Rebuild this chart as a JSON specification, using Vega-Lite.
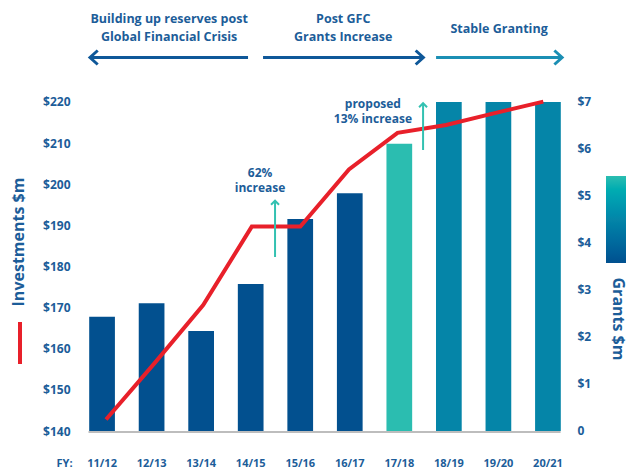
{
  "$schema": "https://vega.github.io/schema/vega-lite/v6.json",
  "width": 494,
  "height": 432,
  "autosize": {"type": "none"},
  "padding": {"left": 78, "top": 0, "right": 60, "bottom": 38},
  "background": "white",
  "config": {
    "view": {"stroke": null},
    "font": "Open Sans",
    "axis": {
      "labelFont": "Open Sans", "labelFontWeight": "bold", "labelColor": "#1c5d99",
      "titleFont": "Open Sans", "titleFontWeight": "bold", "titleColor": "#1c5d99",
      "grid": false, "domain": false, "ticks": false, "tickSize": 0
    },
    "legend": {"padding": 0}
  },
  "datasets": {
    "fy": [
      {"fy": "11/12", "grants": 2.43, "investments": 142.8, "phase": 0},
      {"fy": "12/13", "grants": 2.72, "investments": 156.5, "phase": 0},
      {"fy": "13/14", "grants": 2.13, "investments": 170.6, "phase": 0},
      {"fy": "14/15", "grants": 3.13, "investments": 189.7, "phase": 0},
      {"fy": "15/16", "grants": 4.51, "investments": 189.7, "phase": 0},
      {"fy": "16/17", "grants": 5.06, "investments": 203.6, "phase": 0},
      {"fy": "17/18", "grants": 6.11, "investments": 212.5, "phase": 1},
      {"fy": "18/19", "grants": 7.0, "investments": 214.4, "phase": 0.5},
      {"fy": "19/20", "grants": 7.0, "investments": 217.3, "phase": 0.5},
      {"fy": "20/21", "grants": 7.0, "investments": 220.1, "phase": 0.5}
    ],
    "headers": [
      {"text": "Building up reserves post\nGlobal Financial Crisis", "x": 1.355, "y": 240.18},
      {"text": "Post GFC\nGrants Increase", "x": 4.869, "y": 240.18},
      {"text": "Stable Granting", "x": 8.015, "y": 237.75}
    ],
    "notes": [
      {"text": "62%\nincrease", "x": 3.19, "y": 202.74},
      {"text": "proposed\n13% increase", "x": 5.468, "y": 219.51}
    ],
    "rules": [
      {"kind": "base", "x": -0.2726, "x2": 9.257, "y": 139.757, "y2": 139.757},
      {"kind": "header", "x": -0.2221, "x2": 2.9477, "y": 230.82, "y2": 230.82},
      {"kind": "header", "x": 3.2506, "x2": 6.487, "y": 230.82, "y2": 230.82},
      {"kind": "stable", "x": 6.7434, "x2": 9.2873, "y": 230.82, "y2": 230.82},
      {"kind": "growth", "x": 3.4928, "x2": 3.4928, "y": 182.31, "y2": 196.0},
      {"kind": "growth", "x": 6.4809, "x2": 6.4809, "y": 208.33, "y2": 219.7}
    ],
    "heads": [
      {"kind": "header", "dir": "left", "x": -0.2423, "y": 230.82},
      {"kind": "header", "dir": "right", "x": 6.487, "y": 230.82},
      {"kind": "stable", "dir": "right", "x": 9.2873, "y": 230.82},
      {"kind": "growth", "dir": "up", "x": 3.4928, "y": 196.0},
      {"kind": "growth", "dir": "up", "x": 6.4809, "y": 219.7}
    ]
  },
  "layer": [
    {
      "data": {"name": "fy"},
      "mark": {"type": "bar"},
      "encoding": {
        "x": {
          "field": "fy", "type": "ordinal", "sort": null,
          "scale": {"type": "band", "paddingInner": 0.481, "paddingOuter": 0.2261},
          "axis": {
            "orient": "bottom", "labelAngle": 0, "labelFontSize": 11, "labelPadding": 25, "labelBaseline": "top",
            "title": "FY:", "titleX": -14, "titleY": 31, "titleAlign": "center", "titleBaseline": "middle", "titleFontSize": 11
          }
        },
        "y": {
          "field": "grants", "type": "quantitative",
          "scale": {"domain": [-0.0213, 9.1702], "nice": false},
          "axis": {
            "orient": "right", "values": [0, 1, 2, 3, 4, 5, 6, 7],
            "labelExpr": "datum.value == 0 ? '0' : '$' + datum.value",
            "labelAlign": "left", "labelPadding": 5, "labelFontSize": 12,
            "title": "Grants $m", "titleX": 45.7, "titleY": 318.5, "titleAngle": 90,
            "titleAlign": "center", "titleBaseline": "middle", "titleFontSize": 16
          }
        },
        "fill": {
          "field": "phase", "type": "quantitative",
          "scale": {"domain": [0, 0.5, 1], "range": ["#02508f", "#0585a8", "#2bbdb0"]},
          "legend": {
            "orient": "none", "legendX": 528, "legendY": 176, "direction": "vertical",
            "gradientLength": 87, "gradientThickness": 20, "gradientStrokeWidth": 0,
            "title": null, "labelExpr": "''"
          }
        }
      }
    },
    {
      "data": {"name": "fy"},
      "mark": {"type": "line", "strokeWidth": 4},
      "encoding": {
        "x": {
          "field": "fy", "type": "ordinal", "sort": null,
          "scale": {"type": "point", "range": [28, 465.3], "padding": 0},
          "axis": null
        },
        "y": {
          "field": "investments", "type": "quantitative",
          "scale": {"domain": [139.757, 244.8], "nice": false, "zero": false},
          "axis": {
            "orient": "left", "values": [140, 150, 160, 170, 180, 190, 200, 210, 220],
            "labelExpr": "'$' + datum.value", "labelPadding": 8, "labelFontSize": 12,
            "title": "Investments $m", "titleX": -59.7, "titleY": 241.5, "titleAngle": -90,
            "titleAlign": "center", "titleBaseline": "middle", "titleFontSize": 16
          }
        },
        "stroke": {
          "datum": "Investments", "type": "nominal",
          "scale": {"range": ["#e8202a"]},
          "legend": {
            "orient": "none", "legendX": -81, "legendY": 320, "title": null, "labelExpr": "''",
            "symbolType": "M0,-1L0,1", "symbolSize": 1764, "symbolStrokeWidth": 4
          }
        }
      }
    },
    {
      "encoding": {
        "x": {"field": "x", "type": "quantitative", "scale": {"domain": [-0.4846, 9.4872], "nice": false, "zero": false}, "axis": null},
        "y": {"field": "y", "type": "quantitative", "scale": {"domain": [139.757, 244.8], "nice": false, "zero": false}, "axis": null}
      },
      "layer": [
        {
          "data": {"name": "rules"},
          "transform": [{"filter": "datum.kind == 'header' || datum.kind == 'stable'"}],
          "mark": {"type": "rule", "strokeWidth": 3},
          "encoding": {
            "x2": {"field": "x2"}, "y2": {"field": "y2"},
            "stroke": {"field": "kind", "type": "nominal", "scale": {"domain": ["header", "stable", "growth", "base"], "range": ["#0f5899", "#1b8fb4", "#33c1b1", "#bdbdbd"]}, "legend": null}
          }
        },
        {
          "data": {"name": "rules"},
          "transform": [{"filter": "datum.kind == 'growth' || datum.kind == 'base'"}],
          "mark": {"type": "rule", "strokeWidth": 2},
          "encoding": {
            "x2": {"field": "x2"}, "y2": {"field": "y2"},
            "stroke": {"field": "kind", "type": "nominal", "scale": {"domain": ["header", "stable", "growth", "base"], "range": ["#0f5899", "#1b8fb4", "#33c1b1", "#bdbdbd"]}, "legend": null}
          }
        },
        {
          "data": {"name": "heads"},
          "transform": [{"filter": "datum.kind != 'growth'"}],
          "mark": {"type": "point", "filled": false, "size": 196, "strokeWidth": 3, "opacity": 1},
          "encoding": {
            "shape": {"field": "dir", "type": "nominal", "scale": {"domain": ["left", "right", "up"], "range": ["M1.1,-1L0,0L1.1,1", "M-1.1,-1L0,0L-1.1,1", "M-0.57,0.57L0,0L0.57,0.57"]}, "legend": null},
            "stroke": {"field": "kind", "type": "nominal", "scale": {"domain": ["header", "stable", "growth", "base"], "range": ["#0f5899", "#1b8fb4", "#33c1b1", "#bdbdbd"]}, "legend": null}
          }
        },
        {
          "data": {"name": "heads"},
          "transform": [{"filter": "datum.kind == 'growth'"}],
          "mark": {"type": "point", "filled": false, "size": 196, "strokeWidth": 2, "opacity": 1},
          "encoding": {
            "shape": {"field": "dir", "type": "nominal", "scale": {"domain": ["left", "right", "up"], "range": ["M1.1,-1L0,0L1.1,1", "M-1.1,-1L0,0L-1.1,1", "M-0.57,0.57L0,0L0.57,0.57"]}, "legend": null},
            "stroke": {"field": "kind", "type": "nominal", "scale": {"domain": ["header", "stable", "growth", "base"], "range": ["#0f5899", "#1b8fb4", "#33c1b1", "#bdbdbd"]}, "legend": null}
          }
        },
        {
          "data": {"name": "headers"},
          "mark": {"type": "text", "font": "Open Sans", "fontWeight": "bold", "fontSize": 12.5, "color": "#1c5d99", "align": "center", "baseline": "middle", "lineBreak": "\n", "lineHeight": 18},
          "encoding": {"text": {"field": "text"}}
        },
        {
          "data": {"name": "notes"},
          "mark": {"type": "text", "font": "Open Sans", "fontWeight": "bold", "fontSize": 12, "color": "#1c5d99", "align": "center", "baseline": "middle", "lineBreak": "\n", "lineHeight": 14.6},
          "encoding": {"text": {"field": "text"}}
        }
      ]
    }
  ],
  "resolve": {
    "scale": {"x": "independent", "y": "independent", "stroke": "independent", "fill": "independent"}
  }
}
